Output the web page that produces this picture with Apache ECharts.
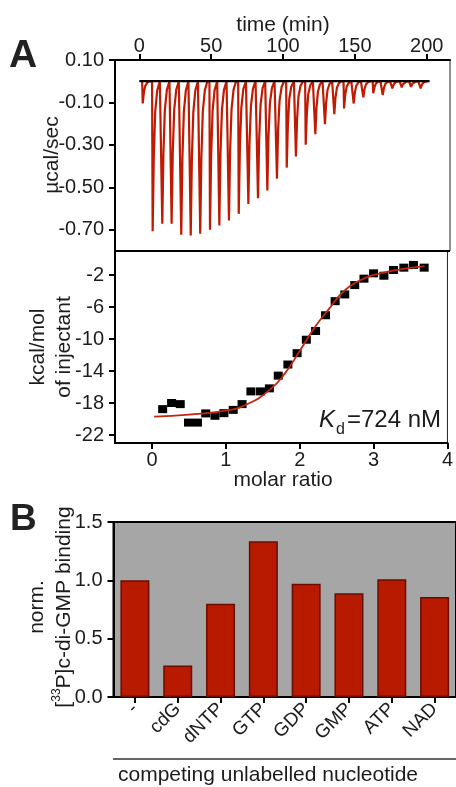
<!DOCTYPE html>
<html>
<head>
<meta charset="utf-8">
<script src="https://cdn.jsdelivr.net/npm/echarts@6/dist/echarts.min.js"></script>
<style>
html,body{margin:0;padding:0;background:#fff;}
#chart{width:456px;height:787px;}
</style>
</head>
<body>
<div id="chart"></div>
<script>
// ---- Panel A (top): raw ITC thermogram ----
const timeTicks = [0, 50, 100, 150, 200];
const powerTicks = [0.1, -0.1, -0.3, -0.5, -0.7];
const injectionTimes = [2.4, 9.3, 16.0, 22.5, 29.2, 35.8, 42.4, 49.2, 55.7, 62.4, 69.2, 75.9, 82.6, 89.1, 95.8,
  102.6, 109.0, 115.8, 122.5, 129.2, 135.7, 142.5, 149.2, 155.9, 162.8, 169.4, 176.1, 182.6, 189.1, 195.8];
const injectionPeaks = [-0.105, -0.707, -0.672, -0.672, -0.723, -0.727, -0.719, -0.700, -0.680, -0.656, -0.625,
  -0.578, -0.551, -0.515, -0.459, -0.407, -0.354, -0.299, -0.250, -0.203, -0.155, -0.128, -0.105, -0.076,
  -0.057, -0.065, -0.034, -0.029, -0.026, -0.034];
const baselineTimes = [0, 202];
const baselinePower = [0, 0];

// ---- Panel A (bottom): integrated heats ----
const ratioTicks = [0, 1, 2, 3, 4];
const heatTicks = [-22, -18, -14, -10, -6, -2];
const molarRatio = [0.145, 0.266, 0.383, 0.495, 0.616, 0.728, 0.853, 0.974, 1.10, 1.22, 1.34, 1.47, 1.59, 1.71,
  1.84, 1.965, 2.09, 2.215, 2.35, 2.48, 2.61, 2.745, 2.87, 3.0, 3.14, 3.27, 3.41, 3.54, 3.685];
const heatPerMol = [-18.77, -18.0, -18.14, -20.45, -20.45, -19.3, -19.6, -19.27, -18.86, -18.14, -16.55, -16.55,
  -16.17, -14.58, -13.19, -11.77, -10.09, -9.0, -7.03, -5.27, -4.43, -3.26, -2.46, -1.79, -2.09, -1.37, -1.08,
  -0.74, -1.08];
const fitRatio = [0.03, 0.5, 1.0, 1.3, 1.6, 1.8, 2.0, 2.2, 2.4, 2.6, 2.8, 3.0, 3.3, 3.69];
const fitHeat = [-19.7, -19.45, -18.95, -18.1, -16.3, -14.3, -11.5, -8.6, -6.2, -4.0, -2.75, -2.0, -1.4, -0.9];

// ---- Panel B: competition assay ----
const nucleotides = ['-', 'cdG', 'dNTP', 'GTP', 'GDP', 'GMP', 'ATP', 'NAD'];
const normBinding = [1.0, 0.27, 0.80, 1.334, 0.97, 0.89, 1.01, 0.857];

// build thermogram trace from injection times / peak values
const thermo = [];
injectionTimes.forEach((t, i) => {
  const d = injectionPeaks[i];
  thermo.push([t - 0.4, 0], [t, d], [t + 0.8, d * 0.5], [t + 1.8, d * 0.2], [t + 3.2, d * 0.06], [t + 5, 0]);
});
const baseline = baselineTimes.map((t, i) => [t, baselinePower[i]]);
const points = molarRatio.map((x, i) => [x, heatPerMol[i]]);
const fit = fitRatio.map((x, i) => [x, fitHeat[i]]);

const FF = '"Liberation Sans", Arial, Helvetica, sans-serif';
const TXT = '#1c1c1c';
const RED = '#bf1a02';
const axLine = { show: true, onZero: false, lineStyle: { color: '#000', width: 2 } };
const tick = { show: true, length: 6, lineStyle: { color: '#000', width: 2 } };
const lab = { color: TXT, fontSize: 20, fontFamily: FF };

const chart = echarts.init(document.getElementById('chart'), null, { renderer: 'canvas' });
chart.setOption({
  animation: false,
  backgroundColor: '#fff',
  grid: [
    { left: 115, top: 60, width: 335, height: 191, show: true, borderColor: '#222', borderWidth: 1 },
    { left: 115, top: 251, width: 335, height: 192, show: true, borderColor: '#222', borderWidth: 1 },
    { left: 113.5, top: 522, width: 344, height: 175, show: true, borderColor: '#000', borderWidth: 2, backgroundColor: '#a6a6a6' }
  ],
  xAxis: [
    { gridIndex: 0, type: 'value', position: 'top', min: -16.9, max: 216.2,
      axisLine: axLine, axisTick: Object.assign({}, tick, { customValues: timeTicks }),
      axisLabel: Object.assign({}, lab, { customValues: timeTicks, margin: 4 }), splitLine: { show: false } },
    { gridIndex: 1, type: 'value', position: 'bottom', min: -0.5, max: 4,
      axisLine: axLine, axisTick: Object.assign({}, tick, { customValues: ratioTicks }),
      axisLabel: Object.assign({}, lab, { customValues: ratioTicks, margin: 7 }), splitLine: { show: false } },
    { gridIndex: 2, type: 'category', data: nucleotides,
      axisLine: axLine, axisTick: Object.assign({}, tick, { alignWithLabel: true }),
      axisLabel: Object.assign({}, lab, { rotate: 45, fontSize: 19, margin: 9, interval: 0 }) }
  ],
  yAxis: [
    { gridIndex: 0, type: 'value', min: -0.8, max: 0.1, position: 'left',
      axisLine: axLine, axisTick: Object.assign({}, tick, { customValues: powerTicks }),
      axisLabel: Object.assign({}, lab, { customValues: powerTicks, margin: 11, formatter: v => v.toFixed(2) }),
      splitLine: { show: false } },
    { gridIndex: 1, type: 'value', min: -23, max: 1, position: 'left',
      axisLine: axLine, axisTick: Object.assign({}, tick, { customValues: heatTicks }),
      axisLabel: Object.assign({}, lab, { customValues: heatTicks, margin: 11 }),
      splitLine: { show: false } },
    { gridIndex: 2, type: 'value', min: 0, max: 1.5, interval: 0.5, position: 'left',
      axisLine: axLine, axisTick: tick,
      axisLabel: Object.assign({}, lab, { margin: 11, formatter: v => v.toFixed(1) }),
      splitLine: { show: false } }
  ],
  series: [
    { type: 'line', xAxisIndex: 0, yAxisIndex: 0, data: thermo, showSymbol: false,
      lineStyle: { color: RED, width: 2.2 }, z: 3 },
    { type: 'line', xAxisIndex: 0, yAxisIndex: 0, data: baseline, showSymbol: false,
      lineStyle: { color: '#000', width: 2.2 }, z: 4 },
    { type: 'scatter', xAxisIndex: 1, yAxisIndex: 1, data: points, symbol: 'rect', symbolSize: [9, 8],
      itemStyle: { color: '#000', opacity: 1 }, z: 3 },
    { type: 'line', xAxisIndex: 1, yAxisIndex: 1, data: fit, smooth: true, showSymbol: false,
      lineStyle: { color: '#c42410', width: 1.8 }, z: 4 },
    { type: 'bar', xAxisIndex: 2, yAxisIndex: 2, data: normBinding, barWidth: 29,
      itemStyle: { color: '#b81a00', borderColor: '#6a0c02', borderWidth: 1.5 } }
  ],
  graphic: { elements: [
    { type: 'text', x: 9, y: 56, style: { text: 'A', fontSize: 39, fontWeight: 'bold', fontFamily: FF, fill: '#222', textVerticalAlign: 'middle' } },
    { type: 'text', x: 10, y: 520, style: { text: 'B', fontSize: 37, fontWeight: 'bold', fontFamily: FF, fill: '#222', textVerticalAlign: 'middle' } },
    { type: 'text', x: 283, y: 25, style: { text: 'time (min)', fontSize: 21, fontFamily: FF, fill: TXT, textAlign: 'center', textVerticalAlign: 'middle' } },
    { type: 'text', x: 52, y: 155, rotation: Math.PI / 2, style: { text: 'µcal/sec', fontSize: 21, fontFamily: FF, fill: TXT, textAlign: 'center', textVerticalAlign: 'middle' } },
    { type: 'text', x: 51, y: 347, rotation: Math.PI / 2, style: { text: 'kcal/mol\nof injectant', fontSize: 21, lineHeight: 26, fontFamily: FF, fill: TXT, textAlign: 'center', textVerticalAlign: 'middle' } },
    { type: 'text', x: 283, y: 480, style: { text: 'molar ratio', fontSize: 21, fontFamily: FF, fill: TXT, textAlign: 'center', textVerticalAlign: 'middle' } },
    { type: 'text', x: 319, y: 420, style: { text: 'K', fontSize: 24, fontStyle: 'italic', fontFamily: FF, fill: TXT, textAlign: 'left', textVerticalAlign: 'middle' } },
    { type: 'text', x: 336, y: 430, style: { text: 'd', fontSize: 16, fontFamily: FF, fill: TXT, textAlign: 'left', textVerticalAlign: 'middle' } },
    { type: 'text', x: 441, y: 420, style: { text: '=724 nM', fontSize: 24, fontFamily: FF, fill: TXT, textAlign: 'right', textVerticalAlign: 'middle' } },
    { type: 'line', shape: { x1: 115, y1: 251, x2: 450, y2: 251 }, style: { stroke: '#000', lineWidth: 2 }, z: 10 },
    { type: 'text', x: 51, y: 607, rotation: Math.PI / 2, style: {
        text: '{n|norm.}\n{n|[}{s|33}{n|P]c-di-GMP binding}', textAlign: 'center', textVerticalAlign: 'middle',
        rich: {
          n: { fontSize: 21, fontFamily: FF, fill: TXT, lineHeight: 27 },
          s: { fontSize: 12, fontFamily: FF, fill: TXT, lineHeight: 16, verticalAlign: 'top' }
        } } },
    { type: 'line', shape: { x1: 113, y1: 759, x2: 456, y2: 759 }, style: { stroke: '#333', lineWidth: 1.5 } },
    { type: 'text', x: 268, y: 775, style: { text: 'competing unlabelled nucleotide', fontSize: 21, fontFamily: FF, fill: TXT, textAlign: 'center', textVerticalAlign: 'middle' } }
  ] }
});
</script>
</body>
</html>
